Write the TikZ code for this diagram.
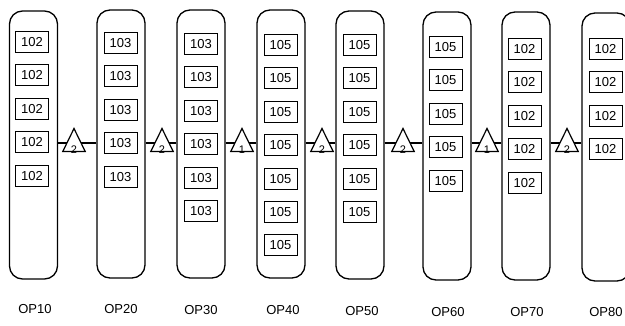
\documentclass[tikz,border=0pt]{standalone}
\usepackage{fontspec}
\setmainfont{Liberation Sans}
\usetikzlibrary{shapes.geometric}
\begin{document}
\begin{tikzpicture}[x=1pt,y=-1pt,
  column/.style={draw,line width=1.3pt,rounded corners=13pt,minimum width=48pt,minimum height=268pt,inner sep=0pt},
  part/.style={draw,line width=1pt,minimum width=33pt,minimum height=21pt,inner sep=0pt,font=\fontsize{13}{13}\selectfont},
  station/.style={draw,line width=1.2pt,fill=white,isosceles triangle,isosceles triangle apex angle=52,shape border rotate=90,minimum height=23pt,minimum width=22pt,inner sep=0pt},
  stationnum/.style={font=\fontsize{11}{11}\selectfont,inner sep=0pt},
  steplabel/.style={font=\fontsize{13}{13}\selectfont},
  conn/.style={line width=1.2pt}]
\useasboundingbox (0,0) rectangle (625,326);
% columns
\node[column] (c1) at (33.5,145) {};
\node[column] (c2) at (121,144) {};
\node[column] (c3) at (201,144) {};
\node[column] (c4) at (281,144) {};
\node[column] (c5) at (360,145) {};
\node[column] (c6) at (447,146) {};
\node[column] (c7) at (526,146) {};
\node[column] (c8) at (606,147) {};
% parts
\foreach \i in {0,...,4} {\node[part] (p1-\i) at (32,42+33.4*\i) {102};}
\foreach \i in {0,...,4} {\node[part] (p2-\i) at (120.5,43+33.4*\i) {103};}
\foreach \i in {0,...,5} {\node[part] (p3-\i) at (201,44+33.4*\i) {103};}
\foreach \i in {0,...,6} {\node[part] (p4-\i) at (280.5,45+33.4*\i) {105};}
\foreach \i in {0,...,5} {\node[part] (p5-\i) at (359.5,45+33.4*\i) {105};}
\foreach \i in {0,...,4} {\node[part] (p6-\i) at (445.5,47+33.4*\i) {105};}
\foreach \i in {0,...,4} {\node[part] (p7-\i) at (524.5,49+33.4*\i) {102};}
\foreach \i in {0,...,3} {\node[part] (p8-\i) at (605.5,49+33.4*\i) {102};}
% connectors
\coordinate (y) at (0,143);
\draw[conn] (c1.east |- y) -- (c2.west |- y);
\draw[conn] (c2.east |- y) -- (c3.west |- y);
\draw[conn] (c3.east |- y) -- (c4.west |- y);
\draw[conn] (c4.east |- y) -- (c5.west |- y);
\draw[conn] (c5.east |- y) -- (c6.west |- y);
\draw[conn] (c6.east |- y) -- (c7.west |- y);
\draw[conn] (c7.east |- y) -- (c8.west |- y);
% stations
\foreach \n/\x/\k in {1/74/2,2/162/2,3/242/1,4/322/2,5/403/2,6/487/1,7/567/2} {
  \node[station] (t\n) at (\x,144.5) {};
  \node[stationnum] (k\n) at (\x,149.5) {\k};
}
% labels
\node[steplabel] (l1) at (35,309) {OP10};
\node[steplabel] (l2) at (121,309) {OP20};
\node[steplabel] (l3) at (201,310) {OP30};
\node[steplabel] (l4) at (283,310) {OP40};
\node[steplabel] (l5) at (362,311) {OP50};
\node[steplabel] (l6) at (448,312) {OP60};
\node[steplabel] (l7) at (527,312) {OP70};
\node[steplabel] (l8) at (606,312) {OP80};
\end{tikzpicture}
\end{document}
